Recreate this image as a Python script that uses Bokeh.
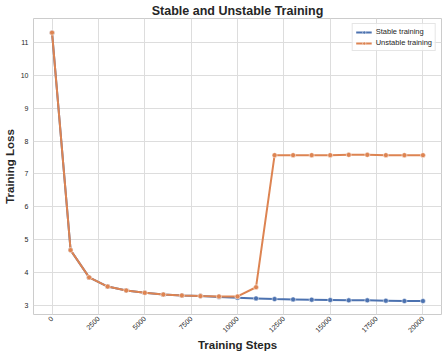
import math
from bokeh.plotting import figure
from bokeh.models import FixedTicker, Range1d, Legend, LegendItem
from bokeh.embed import file_html
from bokeh.resources import INLINE

steps = [0, 1000, 2000, 3000, 4000, 5000, 6000, 7000, 8000, 9000, 10000,
         11000, 12000, 13000, 14000, 15000, 16000, 17000, 18000, 19000, 20000]
stable_loss = [11.30, 4.68, 3.85, 3.57, 3.45, 3.38, 3.33, 3.30, 3.28, 3.25, 3.23,
               3.21, 3.19, 3.18, 3.17, 3.16, 3.15, 3.15, 3.14, 3.13, 3.13]
unstable_loss = [11.30, 4.68, 3.85, 3.57, 3.45, 3.38, 3.33, 3.30, 3.28, 3.27, 3.27,
                 3.55, 7.57, 7.57, 7.57, 7.57, 7.58, 7.58, 7.57, 7.57, 7.57]
x_ticks = [0, 2500, 5000, 7500, 10000, 12500, 15000, 17500, 20000]
y_ticks = [3, 4, 5, 6, 7, 8, 9, 10, 11]

BLUE = "#4C72B0"
ORANGE = "#DD8452"
FONT = "Liberation Sans"

p = figure(frame_width=408, frame_height=296, output_backend="svg", toolbar_location=None,
           x_range=Range1d(-1000, 21000), y_range=Range1d(2.72, 11.73),
           min_border_left=10, min_border_right=3, min_border_top=0, min_border_bottom=20)

p.title.text = "Stable and Unstable Training"
p.title.align = "center"
p.title.text_font = FONT
p.title.text_font_size = "12.5px"
p.title.text_font_style = "bold"
p.title.text_color = "#262626"
p.title.offset = 0
p.title.standoff = 2
p.title.text_line_height = 1.0

p.outline_line_color = "#cccccc"
p.outline_line_width = 1
p.background_fill_color = "white"
p.border_fill_color = "white"

for ax in (p.xaxis, p.yaxis):
    ax.axis_line_color = None
    ax.major_tick_line_color = None
    ax.minor_tick_line_color = None
    ax.major_tick_out = 0
    ax.major_tick_in = 0
    ax.major_label_text_font = FONT
    ax.major_label_text_font_size = "7px"
    ax.major_label_text_color = "#262626"
    ax.axis_label_text_font = FONT
    ax.axis_label_text_font_size = "11.5px"
    ax.axis_label_text_font_style = "bold"
    ax.axis_label_text_color = "#262626"

p.xaxis.ticker = FixedTicker(ticks=x_ticks)
p.yaxis.ticker = FixedTicker(ticks=y_ticks)
p.xaxis.major_label_orientation = math.pi / 4
p.xaxis.axis_label = "Training Steps"
p.yaxis.axis_label = "Training Loss"
p.xaxis.major_label_standoff = 3
p.yaxis.major_label_standoff = 5
p.xaxis.axis_label_standoff = 1
p.yaxis.axis_label_standoff = 2

p.xgrid.grid_line_color = "#dddddd"
p.ygrid.grid_line_color = "#dddddd"
p.xgrid.grid_line_width = 1
p.ygrid.grid_line_width = 1

l1 = p.line(steps, stable_loss, line_color=BLUE, line_width=2)
s1 = p.scatter(steps, stable_loss, size=5, fill_color=BLUE, line_color="white", line_width=0.5)
l2 = p.line(steps, unstable_loss, line_color=ORANGE, line_width=2)
s2 = p.scatter(steps, unstable_loss, size=5, fill_color=ORANGE, line_color="white", line_width=0.5)

legend = Legend(items=[LegendItem(label="Stable training", renderers=[l1, s1]),
                       LegendItem(label="Unstable training", renderers=[l2, s2])],
                location="top_right")
legend.label_text_font = FONT
legend.label_text_font_size = "7.5px"
legend.label_text_color = "#262626"
legend.border_line_color = "#cccccc"
legend.border_line_width = 1
legend.glyph_width = 16
legend.glyph_height = 8
legend.label_height = 8
legend.spacing = 2
legend.padding = 3
legend.margin = 5
legend.label_standoff = 4
legend.background_fill_alpha = 0.8
p.add_layout(legend)

open("out.html", "w").write(file_html(p, INLINE))
